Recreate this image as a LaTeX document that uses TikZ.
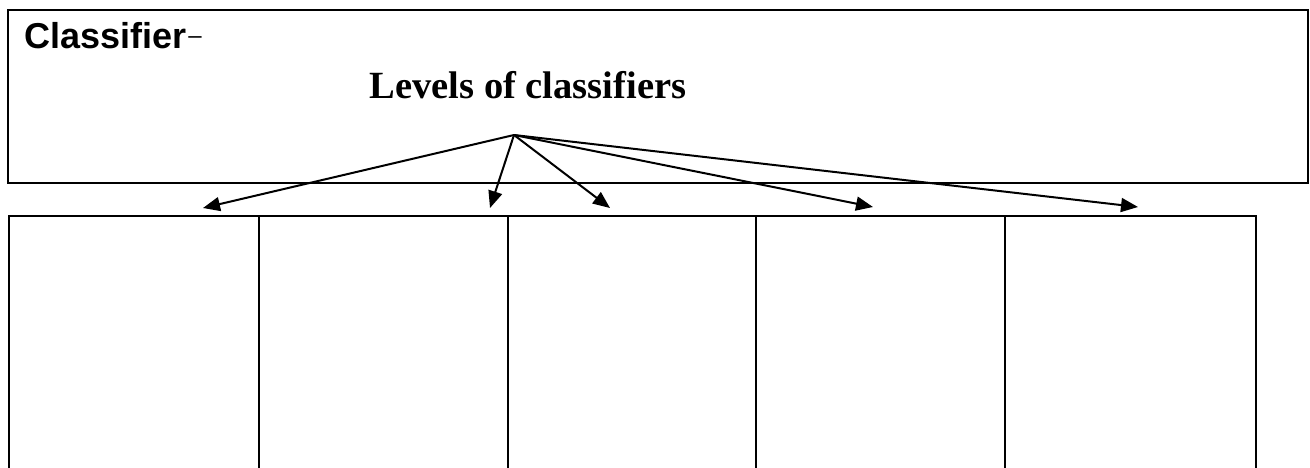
\documentclass[tikz,border=0pt]{standalone}
\usepackage{fontspec}
\setmainfont{Liberation Serif}
\newfontfamily\arialf{Liberation Sans}
\usetikzlibrary{arrows.meta}
\tikzset{
  frame/.style={draw, line width=2pt, inner sep=0pt, anchor=north west},
  cell/.style={draw, line width=1.8pt, inner sep=0pt, anchor=north west, minimum height=300pt},
  link/.style={line width=2pt, -{Triangle[length=17pt,width=14pt]}},
}
\begin{document}
\begin{tikzpicture}[x=1pt,y=-1pt]
\useasboundingbox (0,0) rectangle (1310,468);
\clip (0,0) rectangle (1310,468);
\node[frame, minimum width=1300pt, minimum height=173pt] (top) at (7,9) {};
\node[anchor=base west, inner sep=0pt, font=\arialf\fontsize{36}{40}\selectfont\bfseries] (title) at (24,49) {Classifier{\kern2pt\mdseries\fontsize{24}{28}\selectfont\raisebox{5pt}{–}}};
\node[anchor=base, inner sep=0pt, font=\fontsize{38.5}{44}\selectfont\bfseries] (levels) at (528,99) {Levels of classifiers};
\node[cell, minimum width=250pt] (c1) at (8,215) {};
\node[cell, minimum width=249pt] (c2) at (258,215) {};
\node[cell, minimum width=248pt] (c3) at (507,215) {};
\node[cell, minimum width=249pt] (c4) at (755,215) {};
\node[cell, minimum width=251pt] (c5) at (1004,215) {};
\coordinate (apex) at (514,135);
\coordinate (t1) at (203,208);
\coordinate (t2) at (490,208);
\coordinate (t3) at (610,208);
\coordinate (t4) at (873,207);
\coordinate (t5) at (1138,207);
\foreach \t in {t1,t2,t3,t4,t5} \draw[link] (apex) -- (\t);
\end{tikzpicture}
\end{document}
